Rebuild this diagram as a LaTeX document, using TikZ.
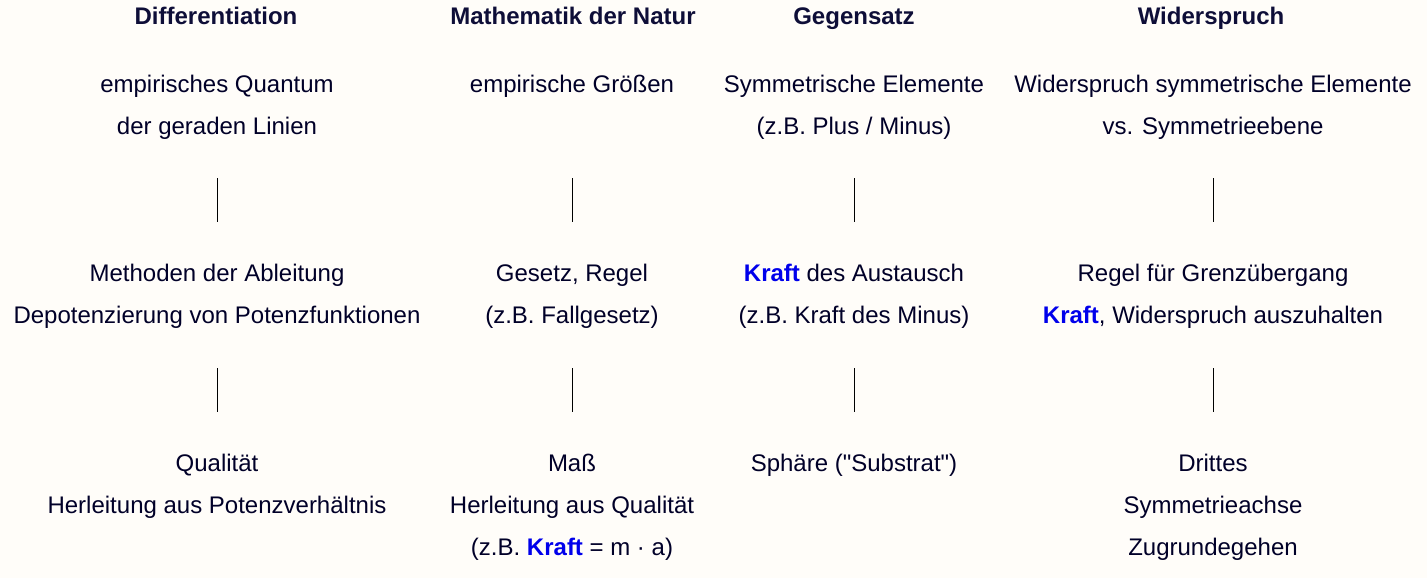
\documentclass[tikz,border=0pt]{standalone}
\usepackage{fontspec}
\setmainfont{Liberation Sans}[Ligatures=TeXOff]
\usetikzlibrary{positioning}
\definecolor{paper}{RGB}{255,253,249}
\definecolor{ink}{RGB}{0,0,40}
\definecolor{head}{RGB}{14,14,56}
\definecolor{kraftblue}{RGB}{0,0,235}
\newcommand{\kraft}{\textcolor{kraftblue}{\textbf{Kraft}}}

\begin{document}
\begin{tikzpicture}[x=1pt,y=-1pt,every node/.style={inner sep=0,align=center,text=ink,font=\fontsize{24}{42}\selectfont},title/.style={font=\fontsize{24}{42}\selectfont\bfseries,text=head},link/.style 2 args={draw=black,line width=1pt,shorten <=#1,shorten >=#2}]
  \useasboundingbox (0,0) rectangle (1427,578);
  \fill[paper] (0,0) rectangle (1427,578);
  % headers
  \node[title] (hdiff) at (216,16) {\strut Differentiation};
  \node[title] (hmath) at (573,16) {\strut Mathematik der Natur};
  \node[title] (hgeg) at (854,16) {\strut Gegensatz};
  \node[title] (hwid) at (1211,16) {\strut Widerspruch};
  % first row
  \node (quant) at (217,105) {\strut empirisches Quantum\\\strut der geraden Linien};
  \node (groess) at (572,84) {\strut empirische Größen};
  \node (symel) at (854,105) {\strut Symmetrische Elemente\\\strut (z.B. Plus / Minus)};
  \node (widsym) at (1213,105) {\strut Widerspruch symmetrische Elemente\\\strut vs. Symmetrieebene};
  % second row
  \node (ableit) at (217,294) {\strut Methoden der Ableitung\\\strut Depotenzierung von Potenzfunktionen};
  \node (gesetz) at (572,294) {\strut Gesetz, Regel\\\strut (z.B. Fallgesetz)};
  \node (austausch) at (854,294) {\strut\kraft{} des Austausch\\\strut (z.B. Kraft des Minus)};
  \node (grenz) at (1213,294) {\strut Regel für Grenzübergang\\\strut\kraft, Widerspruch auszuhalten};
  % third row
  \node (qual) at (217,484) {\strut Qualität\\\strut Herleitung aus Potenzverhältnis};
  \node (mass) at (572,505) {\strut Maß\\\strut Herleitung aus Qualität\\\strut (z.B. \kraft{} = m · a)};
  \node (sphaere) at (854,463) {\strut Sphäre ("Substrat")};
  \node (drittes) at (1213,505) {\strut Drittes\\\strut Symmetrieachse\\\strut Zugrundegehen};
  % connectors
  \draw[link={73}{72}] (quant.center) -- (ableit.center);
  \draw[link={94}{72}] (groess.center) -- (gesetz.center);
  \draw[link={73}{72}] (symel.center) -- (austausch.center);
  \draw[link={73}{72}] (widsym.center) -- (grenz.center);
  \draw[link={74}{72}] (ableit.center) -- (qual.center);
  \draw[link={74}{93}] (gesetz.center) -- (mass.center);
  \draw[link={74}{51}] (austausch.center) -- (sphaere.center);
  \draw[link={74}{93}] (grenz.center) -- (drittes.center);
\end{tikzpicture}
\end{document}
